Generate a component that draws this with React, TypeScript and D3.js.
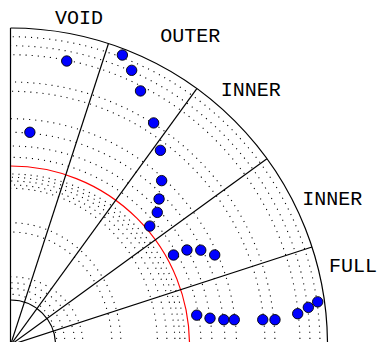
import React from "react";
import * as d3 from "d3";

// Sector labels (text start placed in polar coordinates: angle in degrees, radius in px units of the plot)
const sectorLabels = ["VOID", "OUTER", "INNER", "INNER", "FULL"];
const labelAngles = [82.1, 63.7, 49.8, 25.6, 12.9];
const labelRadii = [323.8, 337.9, 325.9, 323.6, 326.7];

// Sector boundary angles (degrees)
const spokeAngles = [18, 36, 54, 72];

// Dotted reference curves: radius at 90° (vertical axis) and at 0° (horizontal axis)
const gridRadiusTop = [308.3, 299.3, 290.3, 263, 253.7, 226.3, 212.7, 199, 187.7, 171, 167.7, 164, 160, 156.7, 122.3, 113, 68.3, 62.3, 56.7, 50.7];
const gridRadiusSide = [309.5, 299.5, 289.5, 264.5, 254.5, 226, 214.5, 201.5, 190.5, 174.5, 169.5, 164.5, 156.5, 147, 110.5, 101.5, 72.5, 64.5, 54.5, 46.5];

// Reference circles
const redRadius = 179;
const innerRadius = 45;
const outerRadius = 317;

// Data points: angle (degrees) and radius
const pointAngles = [78.8, 84.8, 68.9, 66.2, 62.9, 57.2, 52.4, 47.4, 44.5, 42.1, 40.5, 28.9, 28.3, 26.5, 23.8, 9.1, 7.65, 6.76, 6.45, 5.73, 5.46, 6.22, 7.2, 8.0];
const pointRadii = [289.5, 213.6, 310.8, 300.2, 285.4, 264.2, 245.7, 223.3, 208.3, 197.8, 183.1, 186.2, 200.4, 212.6, 223.2, 188.6, 201.3, 214.8, 225.2, 253.5, 265.7, 288.9, 300.2, 310.2];

const W = 379;
const H = 342;
const cx = 10.5;
const cy = 345;

export default function App() {
  const rad = d3.scaleLinear().domain([0, 90]).range([0, Math.PI / 2]);
  const px = (deg: number, r: number) => cx + r * Math.cos(rad(deg));
  const py = (deg: number, r: number) => cy - r * Math.sin(rad(deg));

  const arcPath = (r: number) =>
    d3.arc()({ innerRadius: r, outerRadius: r, startAngle: 0, endAngle: Math.PI / 2 }) as string;

  const angles = d3.range(0, 90.01, 1);
  const ellR = (a: number, rTop: number, rSide: number) => {
    const t = rad(a);
    return (rTop * rSide) / Math.sqrt(Math.pow(rTop * Math.cos(t), 2) + Math.pow(rSide * Math.sin(t), 2));
  };
  const curve = (rTop: number, rSide: number) =>
    d3
      .line<number>()
      .x((a) => px(a, ellR(a, rTop, rSide)))
      .y((a) => py(a, ellR(a, rTop, rSide)))(angles) as string;

  return (
    <svg
      width={W}
      height={H}
      style={{ position: "absolute", left: 0, top: 0, background: "#fff" }}
    >
      {gridRadiusTop.map((rt, i) => (
        <path
          key={"g" + i}
          d={curve(rt, gridRadiusSide[i])}
          fill="none"
          stroke="#000"
          strokeWidth={1.1}
          strokeDasharray="1.1,5"
        />
      ))}
      <g transform={`translate(${cx},${cy})`}>
        <path d={arcPath(outerRadius)} fill="none" stroke="#000" strokeWidth={1.2} />
        <path d={arcPath(innerRadius)} fill="none" stroke="#000" strokeWidth={1.2} />
        <path d={arcPath(redRadius)} fill="none" stroke="#ff0000" strokeWidth={1.2} />
      </g>
      <line x1={cx} y1={cy} x2={cx} y2={cy - outerRadius} stroke="#000" strokeWidth={1.2} />
      <line x1={cx} y1={cy} x2={cx + outerRadius} y2={cy} stroke="#000" strokeWidth={1.2} />
      {spokeAngles.map((a) => (
        <line
          key={"s" + a}
          x1={cx}
          y1={cy}
          x2={px(a, outerRadius)}
          y2={py(a, outerRadius)}
          stroke="#000"
          strokeWidth={1.2}
        />
      ))}
      {pointAngles.map((a, i) => (
        <circle
          key={"p" + i}
          cx={px(a, pointRadii[i])}
          cy={py(a, pointRadii[i])}
          r={5.2}
          fill="#0000ff"
          stroke="#000"
          strokeWidth={0.9}
        />
      ))}
      {sectorLabels.map((t, i) => (
        <text
          key={"l" + i}
          x={px(labelAngles[i], labelRadii[i])}
          y={py(labelAngles[i], labelRadii[i])}
          fontFamily="'Courier New', Courier, 'Liberation Mono', monospace"
          fontSize={20}
          fill="#000"
        >
          {t}
        </text>
      ))}
    </svg>
  );
}
